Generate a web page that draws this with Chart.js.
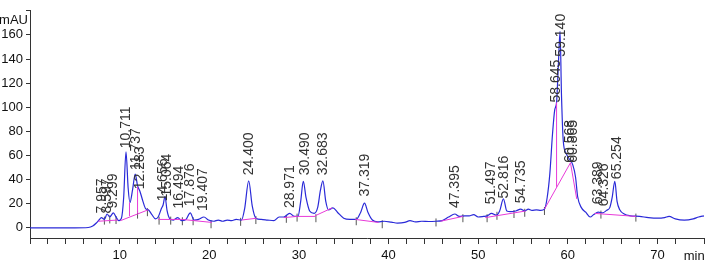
<!DOCTYPE html>
<html>
<head>
<meta charset="utf-8">
<script src="https://cdn.jsdelivr.net/npm/chart.js@4"></script>
<style>
    body { margin: 0; background: #fff; }
    #wrap { width: 709px; height: 266px; position: relative; }
</style>
</head>
<body>
<div id="wrap"><canvas id="lineChart"></canvas></div>
<script>
// signal trace (retention time in min, absorbance in mAU)
const timeMin = [0, 5, 6.5, 7.0, 7.4, 7.7, 7.96, 8.3, 8.6, 8.9, 9.3, 9.6, 9.9, 10.2, 10.45, 10.71, 10.95, 11.15, 11.45, 11.74,
    12.0, 12.28, 12.6, 12.9, 13.2, 13.6, 14.0, 14.3, 14.66, 14.85, 15.06, 15.3, 15.6, 16.0, 16.49, 16.9, 17.4, 17.88, 18.3, 18.8,
    19.41, 19.9, 20.5, 21.0, 21.5, 22.0, 22.5, 23.0, 23.6, 23.95, 24.4, 24.8, 25.2, 25.8, 26.5, 27.2, 27.8, 28.3, 28.97, 29.5,
    29.9, 30.2, 30.49, 30.8, 31.2, 31.7, 32.1, 32.4, 32.68, 33.0, 33.3, 33.8, 34.3, 35.0, 35.7, 36.4, 36.9, 37.32, 37.7, 38.2,
    38.8, 39.5, 40.3, 41.0, 41.8, 42.4, 43.0, 43.7, 44.5, 45.3, 46.0, 46.7, 47.4, 47.9, 48.5, 49.0, 49.5, 50.0, 50.6, 51.0,
    51.5, 52.0, 52.4, 52.82, 53.2, 53.6, 54.2, 54.74, 55.2, 55.6, 56.0, 56.5, 57.0, 57.4, 57.7, 58.0, 58.3, 58.55, 58.75, 58.95,
    59.14, 59.3, 59.5, 59.8, 60.1, 60.57, 60.87, 61.1, 61.5, 62.0, 62.5, 62.9, 63.39, 63.9, 64.33, 64.7, 64.95, 65.25, 65.5, 65.8,
    66.3, 67.0, 68.0, 69.0, 70.0, 70.8, 71.3, 72.0, 73.0, 74.0, 74.6, 75.2];
const absorbance = [0, 0, 0.3, 1.5, 4, 6.5, 8.5, 7, 11.5, 9, 12.5, 9, 6, 8, 25, 63, 33, 21, 32, 44.5,
    35, 30, 22, 16, 15, 11, 7.5, 9, 16, 19, 26, 14, 7.5, 6.5, 8.5, 6, 7, 12.5, 6.5, 7,
    9, 6.5, 5.5, 6.5, 5.5, 6.5, 6, 7, 6.5, 16, 39, 18, 8, 7, 6.5, 6, 9, 9, 12, 9.5,
    9.5, 22, 38.5, 25, 14, 12, 17, 31, 39, 22, 15, 16.5, 13, 8, 7, 7, 13, 20.5, 13, 6.5,
    5, 5.5, 4.8, 4, 4.5, 6, 5, 5.5, 5.3, 5.5, 6, 9, 11.5, 9.5, 10, 10, 11, 9, 9.5, 10,
    12, 10.5, 14, 24, 14, 13.5, 14, 15.5, 14, 15.5, 14.5, 15, 14.5, 15.5, 25, 45, 78, 98, 104, 135,
    163, 110, 72, 62, 58, 52, 42, 26, 17, 13, 9, 11, 13, 12.5, 14.5, 17, 25, 38.5, 22, 15,
    11.5, 10, 9.5, 8.5, 8, 8.5, 9.5, 7.5, 6.5, 7.5, 9, 10];

// integration baselines (null breaks a segment)
const baseT = [7.6, 9.8, null, 10.1, 13.2, null, 11.1, 11.1, null, 12.0, 12.0, null, 14.3, 17.0, 20.3, null,
    23.6, 25.3, null, 28.3, 29.8, 31.8, null, 31.8, 33.7, null, 36.3, 38.9, null, 45.8, 48.3, null,
    50.8, 55.3, null, 57.4, 60.3, 61.0, null, 58.75, 58.75, null, 63.0, 67.6];
const baseV = [5.5, 6.5, null, 6, 15, null, 9.7, 21, null, 12.3, 34, null, 7, 7, 4.5, null,
    6.5, 8, null, 8.5, 9.5, 9.5, null, 10, 16.5, null, 7, 4.5, null, 5.5, 9.5, null,
    8.5, 14, null, 15.5, 54, 24, null, 34, 104, null, 12, 9.5];

// peak start / end marks
const markT = [8.3, 8.9, 9.6, 12.0, 13.1, 14.4, 15.7, 17.0, 18.2, 20.2, 23.5, 25.2, 28.6, 29.8, 31.9,
    36.4, 39.3, 45.3, 48.3, 51.0, 52.1, 54.0, 55.2, 57.4, 63.7, 67.6];
const markV = [6, 7, 6.5, 11, 13, 6, 6, 5.5, 5.5, 3, 5, 6.5, 7.5, 8.5, 8,
    5.5, 3, 4.5, 8, 8, 10, 11.5, 12.5, 14, 11, 8.5];

// peak labels
const peakNames = ['7.957', '8.597', '9.299', '10.711', '11.737', '12.283', '14.656', '15.064', '16.494', '17.876',
    '19.407', '24.400', '28.971', '30.490', '32.683', '37.319', '47.395', '51.497', '52.816', '54.735',
    '58.645', '59.140', '60.568', '60.865', '63.389', '64.326', '65.254'];
const peakLabelT = [8.0, 8.65, 9.3, 10.75, 11.8, 12.3, 14.8, 15.3, 16.6, 17.9,
    19.3, 24.5, 29.0, 30.7, 32.7, 37.4, 47.45, 51.5, 52.85, 54.8,
    58.7, 59.3, 60.3, 60.6, 63.4, 64.1, 65.5];
const peakLabelV = [12, 12, 16, 66, 48, 32, 22, 26, 16, 18,
    14, 43.6, 16.4, 43.6, 43.6, 26, 16.4, 19.6, 24.4, 20.4,
    104, 142, 54, 54, 19.6, 18, 40.4];

const toPoints = (xs, ys) => xs.map((x, i) => (x === null ? { x: null, y: null } : { x: x, y: ys[i] }));

const textPlugin = {
    id: 'chromText',
    afterDatasetsDraw(chart) {
        const ctx = chart.ctx;
        const xs = chart.scales.x;
        const ys = chart.scales.y;
        ctx.save();
        ctx.fillStyle = '#333';
        ctx.font = '14px "Liberation Sans", Arial, sans-serif';
        ctx.textAlign = 'left';
        ctx.textBaseline = 'middle';
        peakNames.forEach((name, i) => {
            ctx.save();
            ctx.translate(xs.getPixelForValue(peakLabelT[i]), ys.getPixelForValue(peakLabelV[i]));
            ctx.rotate(-Math.PI / 2);
            ctx.fillText(name, 0, 0);
            ctx.restore();
        });
        // axis units
        ctx.fillStyle = '#111';
        ctx.font = '13px "Liberation Sans Narrow", "Liberation Sans", sans-serif';
        ctx.textAlign = 'right';
        ctx.fillText('mAU', chart.chartArea.left - 2, ys.getPixelForValue(172));
        ctx.textAlign = 'center';
        ctx.fillText('min', xs.getPixelForValue(74.1), xs.bottom - 10);
        ctx.restore();
    },
};

const ctx = document.getElementById('lineChart').getContext('2d');
new Chart(ctx, {
    type: 'line',
    data: {
        datasets: [
            {
                data: toPoints(baseT, baseV),
                borderColor: '#e83ad8',
                borderWidth: 1,
                pointRadius: 0,
                spanGaps: false,
                order: 0,
            },
            {
                data: toPoints(timeMin, absorbance),
                borderColor: '#2a2ad8',
                borderWidth: 1.2,
                pointRadius: 0,
                cubicInterpolationMode: 'monotone',
                order: 1,
            },
            {
                type: 'scatter',
                data: toPoints(markT, markV),
                pointStyle: 'line',
                rotation: 90,
                radius: 4,
                borderColor: '#555',
                borderWidth: 1,
                order: 2,
            },
        ],
    },
    options: {
        responsive: true,
        maintainAspectRatio: false,
        animation: false,
        layout: { padding: { top: 2, right: 0, left: 0, bottom: 0 } },
        plugins: { legend: { display: false }, tooltip: { enabled: false } },
        scales: {
            x: {
                type: 'linear',
                min: 0,
                max: 75.2,
                border: { color: '#333', width: 1 },
                grid: { drawOnChartArea: false, tickLength: 6, color: '#333' },
                ticks: {
                    stepSize: 2,
                    autoSkip: false,
                    maxRotation: 0,
                    padding: 4,
                    color: '#111',
                    font: { family: '"Liberation Sans Narrow", "Liberation Sans", sans-serif', size: 13 },
                    callback: (v) => (v > 0 && v % 10 === 0 ? String(v) : ''),
                },
                afterFit: (scale) => { scale.height = 28; },
            },
            y: {
                min: -8.4,
                max: 180,
                border: { color: '#333', width: 1 },
                grid: { drawOnChartArea: false, tickLength: 4, color: '#333' },
                ticks: {
                    stepSize: 10,
                    includeBounds: false,
                    padding: 3,
                    color: '#111',
                    font: { family: '"Liberation Sans Narrow", "Liberation Sans", sans-serif', size: 13 },
                    callback: (v) => (v >= 0 && v <= 160 && v % 20 === 0 ? String(v) : ''),
                },
                afterFit: (scale) => { scale.width = 30; },
            },
        },
    },
    plugins: [textPlugin],
});
</script>
</body>
</html>
